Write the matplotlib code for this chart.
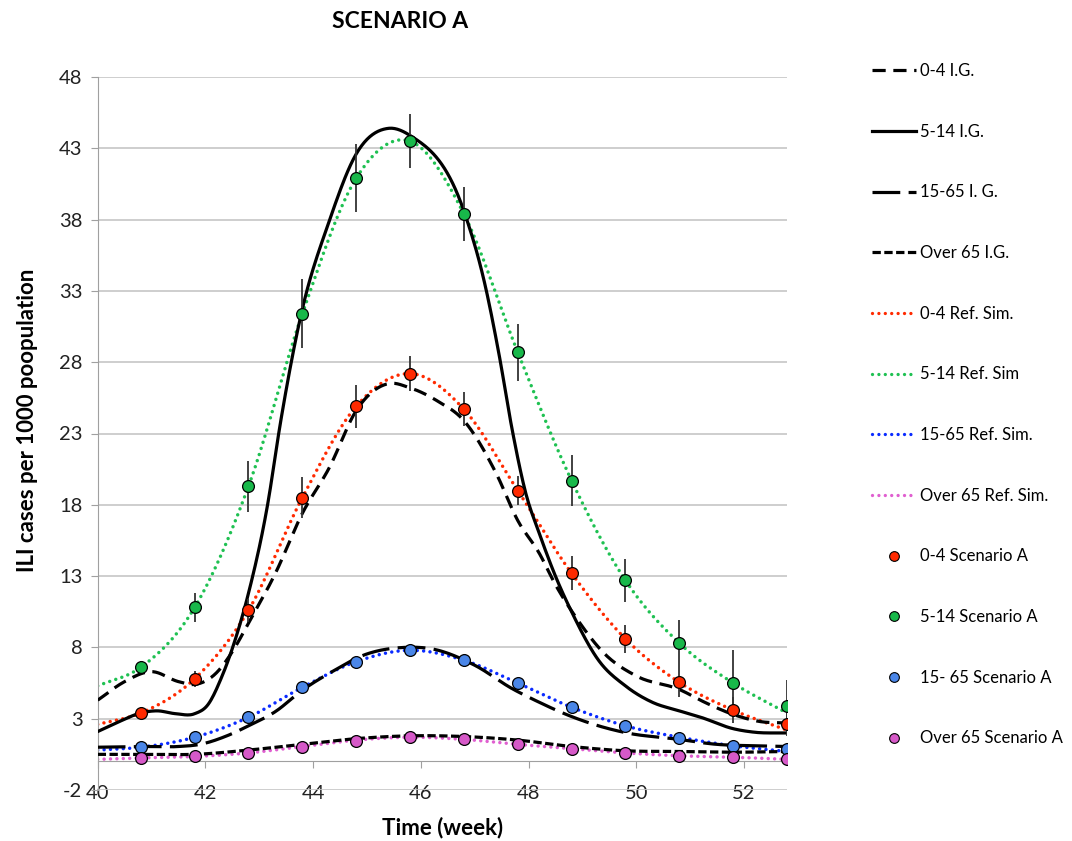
import numpy as np
import matplotlib
matplotlib.use("Agg")
import matplotlib.pyplot as plt
from matplotlib.lines import Line2D

plt.rcParams['font.family'] = ['Lato', 'DejaVu Sans']
plt.rcParams['lines.scale_dashes'] = False
plt.rcParams['axes.unicode_minus'] = False

# --- data --------------------------------------------------------------------
# Scenario A points (with error bars) and reference simulation curves
pt_weeks = [40.8, 41.8, 42.8, 43.8, 44.8, 45.8, 46.8, 47.8, 48.8, 49.8, 50.8, 51.8, 52.8]
scen_04 = [3.4, 5.8, 10.6, 18.5, 24.9, 27.2, 24.7, 19.0, 13.2, 8.6, 5.55, 3.6, 2.6]
scen_04_err = [0.3, 0.55, 0.8, 1.45, 1.5, 1.2, 1.2, 1.0, 1.2, 1.0, 1.05, 0.9, 0.8]
scen_514 = [6.6, 10.8, 19.3, 31.4, 40.9, 43.5, 38.4, 28.7, 19.7, 12.7, 8.3, 5.5, 3.9]
scen_514_err = [0.45, 1.0, 1.8, 2.4, 2.4, 1.9, 1.9, 2.0, 1.8, 1.5, 1.65, 2.3, 1.8]
scen_1565 = [1.0, 1.7, 3.1, 5.2, 7.0, 7.8, 7.1, 5.5, 3.8, 2.5, 1.65, 1.1, 0.85]
scen_65 = [0.25, 0.35, 0.6, 1.05, 1.45, 1.7, 1.55, 1.2, 0.9, 0.6, 0.4, 0.3, 0.2]

ref_weeks = [40.0, 40.8, 41.8, 42.8, 43.8, 44.8, 45.8, 46.8, 47.8, 48.8, 49.8, 50.8, 51.8, 52.8]
ref_04 = [2.6, 3.4, 5.8, 10.6, 18.5, 24.9, 27.2, 24.7, 19.0, 13.2, 8.6, 5.55, 3.6, 2.2]
ref_514 = [5.3, 6.6, 10.8, 19.3, 31.4, 40.9, 43.5, 38.4, 28.7, 19.7, 12.7, 8.3, 5.5, 3.4]
ref_1565 = [0.8, 1.0, 1.7, 3.1, 5.2, 7.0, 7.8, 7.1, 5.5, 3.8, 2.5, 1.7, 1.1, 0.7]
ref_65 = [0.15, 0.25, 0.35, 0.6, 1.05, 1.5, 1.7, 1.55, 1.2, 0.9, 0.6, 0.4, 0.3, 0.15]

# I.G. curves
ig04_weeks = [40.0, 40.5, 41.0, 41.5, 41.8, 42.2, 42.5, 42.8, 43.3, 43.8, 44.3, 44.8, 45.4,
              45.8, 46.3, 46.8, 47.4, 47.8, 48.2, 48.5, 48.9, 49.4, 50.0, 50.8, 51.3, 51.8,
              52.3, 52.8]
ig04 = [4.3, 5.6, 6.3, 5.6, 5.4, 6.2, 7.7, 9.7, 13.2, 17.4, 20.6, 24.6, 26.5,
        26.2, 25.3, 23.9, 20.2, 16.9, 14.6, 12.4, 10.0, 7.6, 6.0, 5.05, 4.1, 3.3,
        2.8, 2.7]
ig514_weeks = [40.0, 40.4, 40.8, 41.1, 41.45, 41.8, 42.05, 42.3, 42.55, 42.8, 43.15, 43.4,
               43.78, 44.3, 44.8, 45.4, 45.8, 46.8, 47.2, 47.45, 47.7, 47.95,
               48.2, 48.5, 48.8, 49.3, 49.8, 50.3, 50.8, 51.2, 51.8, 52.2, 52.8]
ig514 = [2.1, 2.8, 3.4, 3.55, 3.35, 3.35, 4.0, 5.9, 8.5, 11.8, 17.9, 23.9,
         31.4, 37.9, 42.6, 44.4, 43.9, 38.6, 33.3, 28.6, 23.2, 18.8,
         16.0, 13.0, 10.5, 7.1, 5.3, 4.15, 3.55, 3.1, 2.3, 2.05, 2.0]
ig1565_weeks = [40.0, 40.8, 41.5, 41.9, 42.4, 42.8, 43.3, 43.8, 44.4, 44.9, 45.7, 46.2, 47.0,
                47.7, 48.2, 48.7, 49.3, 49.9, 50.7, 51.5, 52.2, 52.8]
ig1565 = [1.0, 1.05, 1.05, 1.2, 1.8, 2.5, 3.5, 5.0, 6.4, 7.4, 8.0, 7.9, 6.75,
          5.1, 4.15, 3.3, 2.5, 1.95, 1.6, 1.2, 1.1, 1.05]
ig65_weeks = [40.0, 41.0, 41.8, 42.8, 43.8, 44.8, 45.8, 46.8, 47.8, 48.8, 49.8, 50.8, 51.8, 52.8]
ig65 = [0.5, 0.5, 0.5, 0.8, 1.2, 1.6, 1.8, 1.75, 1.5, 1.05, 0.75, 0.7, 0.65, 0.7]

RED, GREEN, BLUE, PINK = '#ff2a00', '#18b84a', '#4a86e8', '#d659c8'
RED_L, GREEN_L, BLUE_L, PINK_L = '#ff2a00', '#1fc152', '#0a2bff', '#e05fd0'


def smooth(x, y, n=500):
    # cubic Hermite curve through the points, like Excel's "smoothed line"
    x = np.asarray(x, float)
    y = np.asarray(y, float)
    m = np.gradient(y, x)
    xs = np.linspace(x[0], x[-1], n)
    i = np.clip(np.searchsorted(x, xs, side='right') - 1, 0, len(x) - 2)
    h = x[i + 1] - x[i]
    t = (xs - x[i]) / h
    ys = ((2 * t**3 - 3 * t**2 + 1) * y[i] + (t**3 - 2 * t**2 + t) * h * m[i]
          + (-2 * t**3 + 3 * t**2) * y[i + 1] + (t**3 - t**2) * h * m[i + 1])
    return xs, ys


fig = plt.figure(figsize=(10.72, 8.41), dpi=100)
ax = fig.add_axes([97.7 / 1072, 1 - 790 / 841, (787 - 97.7) / 1072, (790 - 77) / 841])

# reference simulations (dotted)
dot = (0, (0.01, 4.6))
ref_sets = [(ref_04, RED_L), (ref_514, GREEN_L), (ref_1565, BLUE_L), (ref_65, PINK_L)]
for vals, col in ref_sets:
    sx, sy = smooth(ref_weeks, vals)
    ax.plot(sx, sy, color=col, lw=2.5, linestyle=dot, dash_capstyle='round', zorder=2)

# I.G. curves (black)
ig_sets = [
    (ig04_weeks, ig04, (0, (9.5, 5.5))),
    (ig514_weeks, ig514, '-'),
    (ig1565_weeks, ig1565, (0, (20, 6))),
    (ig65_weeks, ig65, (0, (6, 2.5))),
]
for wk, vals, ls in ig_sets:
    sx, sy = smooth(wk, vals)
    ax.plot(sx, sy, color='black', lw=2.3, linestyle=ls, zorder=3)

# scenario points with error bars
ax.errorbar(pt_weeks, scen_514, yerr=scen_514_err, fmt='none', ecolor='#333333',
            elinewidth=1.3, capsize=0, zorder=4)
ax.errorbar(pt_weeks, scen_04, yerr=scen_04_err, fmt='none', ecolor='#333333',
            elinewidth=1.3, capsize=0, zorder=4)
for vals, col in [(scen_04, RED), (scen_514, GREEN), (scen_1565, BLUE), (scen_65, PINK)]:
    ax.plot(pt_weeks, vals, 'o', ms=8.5, mfc=col, mec='black', mew=0.9, zorder=5)

# axes styling, Excel-like
ax.set_xlim(40, 52.8)
ax.set_ylim(-2, 48)
ax.set_yticks(np.arange(-2, 49, 5))
ax.set_xticks(range(40, 53, 2))
ax.grid(axis='y', color='#c6c6c6', lw=1.2)
ax.set_axisbelow(True)
for s in ['top', 'right']:
    ax.spines[s].set_visible(False)
ax.spines['left'].set_color('#a0a0a0')
ax.spines['bottom'].set_color('#a0a0a0')
ax.spines['bottom'].set_position(('data', 0))
ax.tick_params(axis='y', direction='out', length=5, color='#a0a0a0', pad=6,
               labelsize=14.5, labelcolor='#222222')
ax.tick_params(axis='x', direction='out', length=5, color='#a0a0a0', pad=12,
               labelsize=14.5, labelcolor='#222222')

fig.text(400 / 1072, 1 - 22 / 841, 'SCENARIO A', ha='center', va='center',
         fontsize=16.5, fontweight='bold')
fig.text(443 / 1072, 1 - 828 / 841, 'Time (week)', ha='center', va='center',
         fontsize=16, fontweight='bold')
fig.text(28 / 1072, 1 - 420 / 841, 'ILI cases per 1000 poopulation', ha='center',
         va='center', rotation=90, fontsize=16, fontweight='bold')

# legend
handles = [
    Line2D([], [], color='black', lw=2.3, linestyle=(0, (9.5, 5.5))),
    Line2D([], [], color='black', lw=2.3, linestyle='-'),
    Line2D([], [], color='black', lw=2.3, linestyle=(0, (20, 6))),
    Line2D([], [], color='black', lw=2.3, linestyle=(0, (6, 2.5))),
    Line2D([], [], color=RED_L, lw=2.4, linestyle=dot, dash_capstyle='round'),
    Line2D([], [], color=GREEN_L, lw=2.4, linestyle=dot, dash_capstyle='round'),
    Line2D([], [], color=BLUE_L, lw=2.4, linestyle=dot, dash_capstyle='round'),
    Line2D([], [], color=PINK_L, lw=2.4, linestyle=dot, dash_capstyle='round'),
    Line2D([], [], marker='o', ls='none', ms=7, mfc=RED, mec='black', mew=0.8),
    Line2D([], [], marker='o', ls='none', ms=7, mfc=GREEN, mec='black', mew=0.8),
    Line2D([], [], marker='o', ls='none', ms=7, mfc=BLUE, mec='black', mew=0.8),
    Line2D([], [], marker='o', ls='none', ms=7, mfc=PINK, mec='black', mew=0.8),
]
labels = ['0-4 I.G.', '5-14 I.G.', '15-65 I. G.', 'Over 65 I.G.',
          '0-4 Ref. Sim.', '5-14 Ref. Sim', '15-65 Ref. Sim.', 'Over 65 Ref. Sim.',
          '0-4 Scenario A', '5-14 Scenario A', '15- 65 Scenario A', 'Over 65 Scenario A']
fig.legend(handles, labels, loc='upper left', bbox_to_anchor=(872 / 1072, 1 - 63 / 841),
           frameon=False, fontsize=12, handlelength=2.65, handletextpad=0.25,
           labelspacing=2.68, borderpad=0, borderaxespad=0)

fig.savefig('out.png', dpi=100)
